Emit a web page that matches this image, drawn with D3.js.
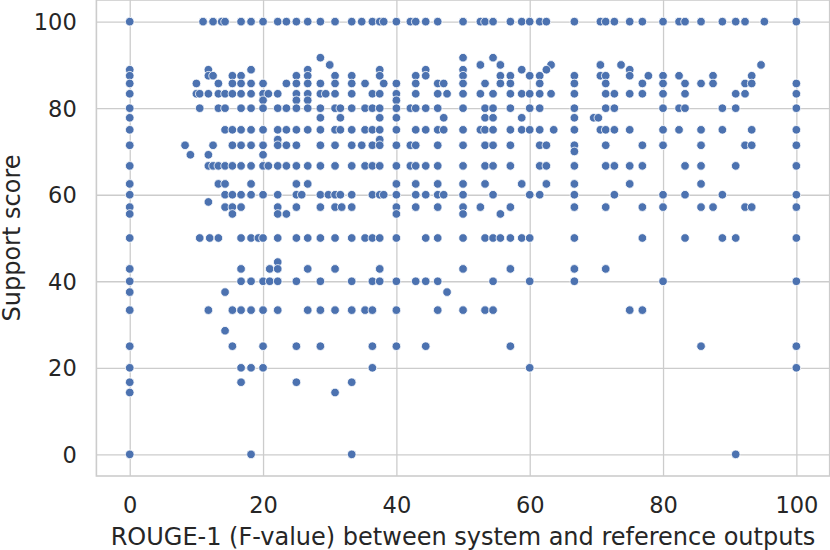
<!DOCTYPE html>
<html>
<head>
<meta charset="utf-8">
<script src="https://cdn.jsdelivr.net/npm/d3@7"></script>
<style>
  body { margin: 0; background: #fff; }
  text { font-family: "DejaVu Sans", sans-serif; fill: #262626; }
</style>
</head>
<body>
<svg id="chart" width="830" height="550"></svg>
<script>
const xTicks = [0, 20, 40, 60, 80, 100];
const yTicks = [0, 20, 40, 60, 80, 100];
const xLabel = 'ROUGE-1 (F-value) between system and reference outputs';
const yLabel = 'Support score';

// ROUGE-1 values of the points found at each support score
const at100 = [0, 11.0, 12.5, 13.8, 14.3, 16.7, 18.2, 20, 22.2, 23.5, 25, 26.7, 28.6, 30.8, 33.3, 34.8, 36.4, 37.5, 38.1, 40, 42.1, 42.9, 44.4, 46.2, 50, 52.6, 53.3, 54.5, 57.1, 58.8, 60, 61.5, 62.5, 66.7, 70.6, 71.4, 72.7, 75, 76.9, 80, 82.4, 83.3, 85.7, 88.9, 90.9, 92.3, 95.2, 100];
const at91 = [28.6, 50, 54.5];
const at90 = [30, 52.6, 55.6, 63.2, 70.6, 73.7, 94.7];
const at88 = [0, 11.8, 18.2, 26.7, 37.5, 44.4, 50, 58.8, 62.5, 75];
const at87 = [0, 11.8, 12.5, 15.4, 16.7, 25, 26.7, 30.8, 33.3, 37.5, 42.9, 44.4, 50, 55.6, 57.1, 60, 61.5, 66.7, 70.6, 71.4, 75, 77.8, 80, 82.4, 87.5, 93.3];
const at85 = [0, 10, 13.3, 15.4, 16.7, 18.2, 20, 23.5, 25, 26.7, 28.6, 30.8, 33.3, 35.3, 38.1, 40, 42.9, 46.2, 47.1, 50, 53.3, 55.6, 57.1, 61.5, 66.7, 71.4, 76.9, 80, 83.3, 85.7, 87.5, 92.3, 93.3, 100];
const at83 = [0, 10, 10.5, 11.8, 13.3, 14.3, 15.4, 16.7, 18.2, 20, 20.8, 22.2, 25, 26.7, 28.6, 29.4, 30.8, 33.3, 36.4, 37.5, 40, 42.9, 46.2, 47.6, 50, 52.6, 54.5, 57.1, 58.8, 60, 61.5, 63.2, 66.7, 71.4, 72.7, 75, 76.9, 80, 83.3, 90.9, 92.3, 100];
const at81 = [20, 25, 26.7, 40];
const at80 = [0, 10.5, 13.3, 14.3, 16.7, 18.2, 20, 22.2, 23.5, 25, 26.7, 28.6, 30.8, 31.6, 33.3, 35.3, 36.4, 37.5, 40, 42.1, 42.9, 44.4, 46.2, 50, 53.3, 54.5, 57.1, 60, 61.5, 66.7, 71.4, 72.7, 80, 82.4, 83.3, 88.9, 90.9, 100];
const at77 = [0, 28.6, 31.6, 37.5, 40, 47.1, 53.3, 54.5, 58.8, 66.7, 69.6, 70.3];
const at75 = [0, 14.3, 15.4, 16.7, 18.2, 20, 22.2, 23.5, 25, 26.7, 28.6, 30.8, 31.6, 33.3, 35.3, 36.4, 37.5, 40, 42.9, 44.4, 46.2, 47.1, 50, 52.6, 53.3, 54.5, 57.1, 58.8, 60, 61.5, 63.6, 66.7, 70.6, 71.4, 72.7, 75, 80, 82.4, 85.7, 88.9, 93.3, 100];
const at72 = [22.2, 37.5];
const at71 = [0, 8.3, 12.5, 15.4, 16.7, 18.2, 20, 22.2, 23.5, 25, 28.6, 30.8, 33.3, 34.8, 36.4, 37.5, 40, 42.1, 42.9, 46.2, 50, 53.3, 54.5, 57.1, 61.5, 62.5, 66.7, 71.4, 76.9, 80, 85.7, 92.3, 93.3, 100];
const at70 = [66.7];
const at69 = [9.1, 11.8, 20];
const at66 = [0, 11.8, 12.5, 13.3, 14.3, 15.4, 16.7, 18.2, 20, 20.8, 22.2, 23.5, 25, 26.7, 28.6, 30.8, 33.3, 35.3, 36.4, 37.5, 40, 42.1, 42.9, 44.4, 46.2, 50, 53.3, 54.5, 57.1, 61.5, 62.5, 66.7, 71.4, 72.7, 75, 76.9, 83.3, 85.7, 90.9, 100];
const at62 = [0, 13.3, 14.3, 18.2, 25, 26.7, 40, 42.9, 46.2, 50, 53.3, 58.8, 62.5, 66.7, 75, 85.7];
const at60 = [0, 14.3, 15.4, 16.7, 18.2, 20, 22.2, 25, 25.8, 28.6, 29.8, 30.8, 31.6, 33.3, 36.4, 37.5, 38.1, 40, 42.9, 44.4, 46.2, 47.1, 50, 54.5, 60, 61.5, 66.7, 72.7, 80, 83.3, 88.9, 100];
const at58 = [11.8];
const at57 = [0, 14.3, 15.4, 16.7, 22.2, 25, 28.6, 30.8, 31.8, 33.3, 40, 42.9, 46.2, 50, 52.6, 57.1, 66.7, 71.4, 76.9, 80, 85.7, 87.5, 92.3, 93.3, 100];
const at55 = [0, 15.4, 22.2, 23.5, 40, 50, 55.6];
const at50 = [0, 10.5, 12, 13.3, 16.7, 18.2, 19.3, 20, 22.2, 25, 26.7, 28.6, 30.8, 33.3, 35.3, 36.4, 37.5, 40, 44.4, 46.2, 50, 53.3, 54.5, 55.6, 57.1, 58.8, 60, 66.7, 76.9, 83.3, 88.9, 90.9, 100];
const at44 = [22.2];
const at42 = [0, 16.7, 21, 22.2, 26.7, 30.8, 37.5, 50, 57.1, 66.7, 71.4];
const at40 = [0, 16.7, 18.2, 20, 21, 22.2, 25, 28.6, 33.3, 36.4, 37.5, 40, 42.9, 44.4, 46.2, 54.5, 60, 66.7, 80, 100];
const at37 = [0, 14.3, 47.6];
const at33 = [0, 11.8, 15.4, 16.7, 18.2, 20, 22.2, 26.7, 28.6, 30.8, 33.3, 35.3, 36.4, 40, 46.2, 50, 53.3, 54.5, 75, 76.9];
const at28 = [14.3];
const at25 = [0, 15.4, 20, 25, 28.6, 36.4, 40, 44.4, 57.1, 85.7, 100];
const at20 = [0, 16.7, 18.2, 20, 36.4, 60, 100];
const at16 = [0, 16.7, 25, 33.3];
const at14 = [0, 30.8];
const at0 = [0, 18.2, 33.3, 90.9];

const rows = [
  [100, at100], [91.67, at91], [90, at90], [88.89, at88], [87.5, at87], [85.71, at85],
  [83.33, at83], [81.82, at81], [80, at80], [77.78, at77], [75, at75], [72.73, at72],
  [71.43, at71], [70, at70], [69.23, at69], [66.67, at66], [62.5, at62], [60, at60],
  [58.33, at58], [57.14, at57], [55.56, at55], [50, at50], [44.44, at44], [42.86, at42],
  [40, at40], [37.5, at37], [33.33, at33], [28.57, at28], [25, at25], [20, at20],
  [16.67, at16], [14.29, at14], [0, at0]
];
const points = rows.flatMap(([score, xs]) => xs.map(r => ({ rouge: r, score: score })));

const svg = d3.select('#chart');
const plotL = 96.4, plotR = 829.7, plotT = 0, plotB = 476;

const x = d3.scaleLinear().domain([-5, 105]).range([plotL, plotR]);
const y = d3.scaleLinear().domain([-5, 105]).range([plotB, plotT]);

const grid = '#cccccc';

const xAxis = svg.append('g')
    .attr('transform', `translate(0,${plotB})`)
    .call(d3.axisBottom(x).tickValues(xTicks).tickSize(-(plotB - plotT)).tickFormat(d3.format('d')));
xAxis.select('.domain').remove();
xAxis.selectAll('line').attr('stroke', grid).attr('stroke-width', 1.3);
xAxis.selectAll('text')
    .attr('y', 37).attr('dy', null)
    .attr('font-size', 22.5).attr('fill', '#262626');

const yAxis = svg.append('g')
    .attr('transform', `translate(${plotL},0)`)
    .call(d3.axisLeft(y).tickValues(yTicks).tickSize(-(plotR - plotL)).tickFormat(d3.format('d')));
yAxis.select('.domain').remove();
yAxis.selectAll('line').attr('stroke', grid).attr('stroke-width', 1.3);
yAxis.selectAll('text')
    .attr('x', -19.7).attr('dy', '0.36em')
    .attr('font-size', 22.5).attr('fill', '#262626');

// frame
svg.append('rect')
    .attr('x', plotL).attr('y', plotT)
    .attr('width', plotR - plotL).attr('height', plotB - plotT)
    .attr('fill', 'none').attr('stroke', grid).attr('stroke-width', 1.6);

svg.append('g')
  .selectAll('circle')
    .data(points)
    .enter().append('circle')
    .attr('cx', d => x(d.rouge))
    .attr('cy', d => y(d.score))
    .attr('r', 4.3)
    .attr('fill', '#4c72b0')
    .attr('stroke', '#ffffff')
    .attr('stroke-width', 0.8);

svg.append('text')
    .attr('x', 463)
    .attr('y', 545)
    .attr('text-anchor', 'middle')
    .attr('font-size', 24)
    .text(xLabel);

svg.append('text')
    .attr('transform', `translate(19.5,${(plotT + plotB) / 2}) rotate(-90)`)
    .attr('text-anchor', 'middle')
    .attr('font-size', 24)
    .text(yLabel);
</script>
</body>
</html>
